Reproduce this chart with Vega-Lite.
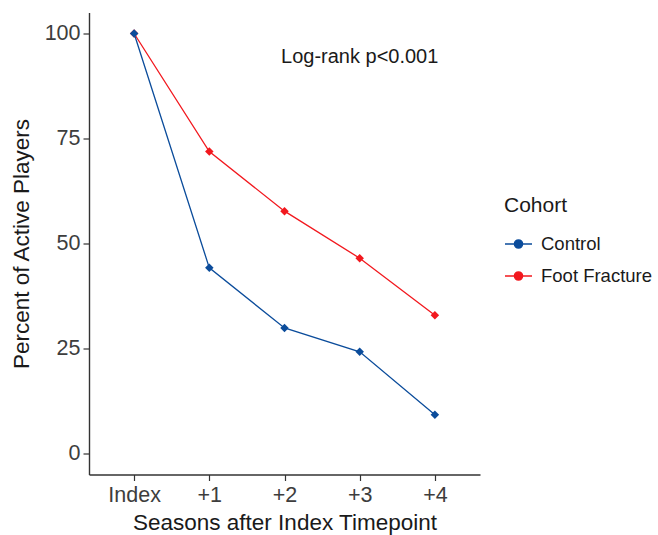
{
  "$schema": "https://vega.github.io/schema/vega-lite/v6.json",
  "autosize": {"type": "none"},
  "width": 391,
  "height": 462,
  "padding": {"left": 89, "top": 12.5, "right": 178, "bottom": 60.5},
  "background": "white",
  "config": {
    "font": "Liberation Sans",
    "view": {"stroke": null},
    "axis": {
      "grid": false,
      "domainColor": "#333333",
      "domainWidth": 1.4,
      "tickColor": "#333333",
      "tickWidth": 1.2,
      "tickSize": 6,
      "labelFont": "Liberation Sans",
      "labelFontSize": 21.5,
      "labelColor": "#3d3d3d",
      "titleFont": "Liberation Sans",
      "titleFontSize": 22.5,
      "titleFontWeight": "normal",
      "titleColor": "#1a1a1a"
    }
  },
  "data": {
    "values": [
      {"season": "Index", "cohort": "Foot Fracture", "pct": 100},
      {"season": "+1", "cohort": "Foot Fracture", "pct": 71.9},
      {"season": "+2", "cohort": "Foot Fracture", "pct": 57.7},
      {"season": "+3", "cohort": "Foot Fracture", "pct": 46.5},
      {"season": "+4", "cohort": "Foot Fracture", "pct": 32.9},
      {"season": "Index", "cohort": "Control", "pct": 100},
      {"season": "+1", "cohort": "Control", "pct": 44.2},
      {"season": "+2", "cohort": "Control", "pct": 29.9},
      {"season": "+3", "cohort": "Control", "pct": 24.2},
      {"season": "+4", "cohort": "Control", "pct": 9.2}
    ]
  },
  "layer": [
    {
      "encoding": {
        "x": {
          "field": "season",
          "type": "ordinal",
          "sort": ["Index", "+1", "+2", "+3", "+4"],
          "scale": {"type": "point", "padding": 0.6, "domain": ["Index", "+1", "+2", "+3", "+4"]},
          "axis": {"title": "Seasons after Index Timepoint", "labelAngle": 0, "labelPadding": 4, "titlePadding": 5}
        },
        "y": {
          "field": "pct",
          "type": "quantitative",
          "scale": {"domain": [-5, 105], "nice": false, "zero": false},
          "axis": {"title": "Percent of Active Players", "values": [0, 25, 50, 75, 100], "labelPadding": 3, "titlePadding": 11}
        },
        "color": {
          "field": "cohort",
          "type": "nominal",
          "scale": {"domain": ["Control", "Foot Fracture"], "range": ["#0B4C9B", "#F2181E"]},
          "legend": {
            "title": "Cohort",
            "orient": "none",
            "legendX": 415,
            "legendY": 182,
            "titleFont": "Liberation Sans",
            "titleFontSize": 21,
            "titleFontWeight": "normal",
            "titleColor": "#1a1a1a",
            "titlePadding": 14,
            "labelFont": "Liberation Sans",
            "labelFontSize": 18.5,
            "labelColor": "#1a1a1a",
            "labelOffset": 8,
            "symbolType": "M-1,0L1,0M-0.3,0A0.3,0.3 0 1,1 0.3,0A0.3,0.3 0 1,1 -0.3,0Z",
            "symbolSize": 729,
            "symbolStrokeWidth": 1.5,
            "rowPadding": 8,
            "encode": {
              "symbols": {
                "update": {
                  "fill": {"scale": "color", "field": "value"},
                  "stroke": {"scale": "color", "field": "value"},
                  "fillOpacity": {"value": 1},
                  "strokeWidth": {"value": 1.5}
                }
              }
            }
          }
        }
      },
      "layer": [
        {"mark": {"type": "line", "strokeWidth": 1.3}},
        {"mark": {"type": "point", "shape": "diamond", "filled": true, "size": 72, "opacity": 1}}
      ]
    },
    {
      "data": {"values": [{"label": "Log-rank p<0.001", "season": "+3", "pct": 94.5}]},
      "mark": {"type": "text", "fontSize": 20, "font": "Liberation Sans", "color": "#1a1a1a"},
      "encoding": {
        "x": {"field": "season", "type": "ordinal", "sort": ["Index", "+1", "+2", "+3", "+4"]},
        "y": {"field": "pct", "type": "quantitative"},
        "text": {"field": "label"}
      }
    }
  ]
}
